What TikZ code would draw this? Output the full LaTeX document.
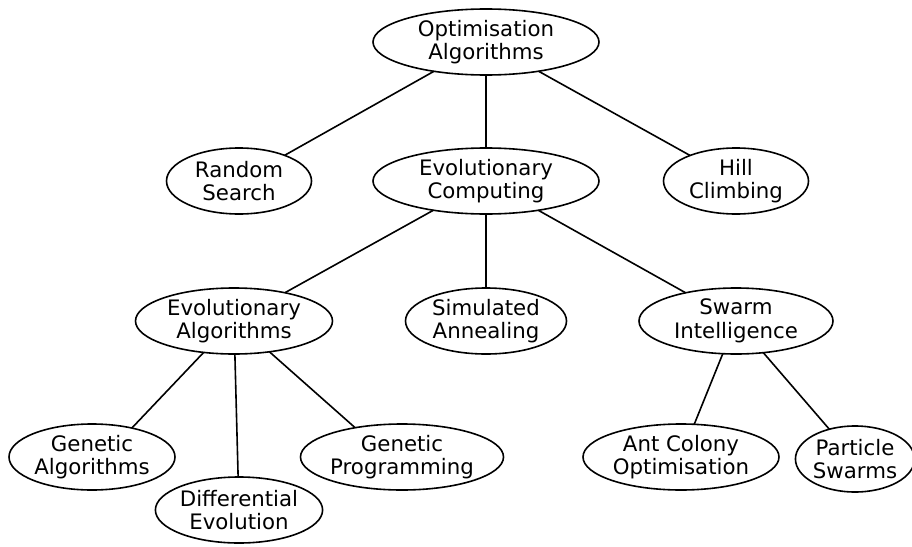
\documentclass[tikz,border=0pt]{standalone}
\usepackage{fontspec}
\setmainfont{DejaVu Sans}
\usetikzlibrary{shapes.geometric}
\tikzset{
  topic/.style={ellipse, draw, line width=1.6pt, inner sep=0pt, outer sep=0pt,
    minimum height=66pt, align=center, font=\fontsize{21.3}{23.5}\selectfont},
  link/.style={line width=1.6pt}
}
\begin{document}
\begin{tikzpicture}[x=1pt,y=-1pt]
\useasboundingbox (0,0) rectangle (912,546);
% tree of optimisation methods
\node[topic, minimum width=226pt] (opt) at (486,42) {Optimisation\\Algorithms};
\node[topic, minimum width=145pt] (rs)  at (239,181) {Random\\Search};
\node[topic, minimum width=226pt] (ec)  at (486,181) {Evolutionary\\Computing};
\node[topic, minimum width=145pt] (hc)  at (736,181) {Hill\\Climbing};
\node[topic, minimum width=197pt] (ea)  at (234,321) {Evolutionary\\Algorithms};
\node[topic, minimum width=161pt] (sa)  at (486,321) {Simulated\\Annealing};
\node[topic, minimum width=194pt] (si)  at (736,321) {Swarm\\Intelligence};
\node[topic, minimum width=166pt] (ga)  at (92,457) {Genetic\\Algorithms};
\node[topic, minimum width=166pt] (de)  at (239,510) {Differential\\Evolution};
\node[topic, minimum width=194pt] (gp)  at (402,457) {Genetic\\Programming};
\node[topic, minimum width=196pt] (aco) at (681,457) {Ant Colony\\Optimisation};
\node[topic, minimum width=117pt] (ps)  at (855,459) {Particle\\Swarms};
% connectors
\draw[link] (opt) -- (rs);
\draw[link] (opt) -- (ec);
\draw[link] (opt) -- (hc);
\draw[link] (ec) -- (ea);
\draw[link] (ec) -- (sa);
\draw[link] (ec) -- (si);
\draw[link] (ea.226) -- (ga.36);
\draw[link] (ea) -- (de);
\draw[link] (ea.319) -- (gp.148);
\draw[link] (si) -- (aco);
\draw[link] (si) -- (ps);
\end{tikzpicture}
\end{document}
